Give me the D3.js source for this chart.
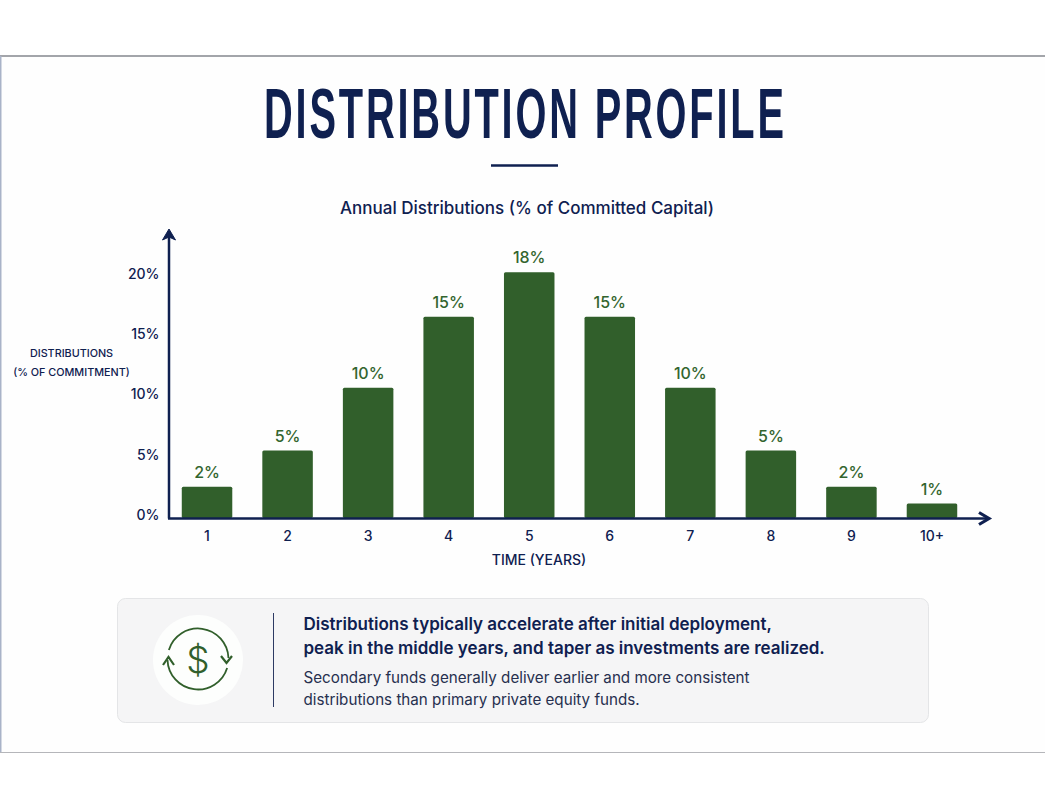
<!DOCTYPE html>
<html>
<head>
<meta charset="utf-8">
<script src="https://cdn.jsdelivr.net/npm/d3@7"></script>
<style>
  html, body { margin: 0; padding: 0; background: #fff; }
  svg { display: block; }
  text { font-family: Inter, "Noto Sans", sans-serif; }
</style>
</head>
<body>
<svg id="chart" width="1045" height="808"></svg>
<script>
const years = ["1", "2", "3", "4", "5", "6", "7", "8", "9", "10+"];
// bar heights as read against the axis (they run a bit above their printed labels)
const barValues = [2.6, 5.6, 10.8, 16.7, 20.4, 16.7, 10.8, 5.6, 2.6, 1.2];
const barLabels = ["2%", "5%", "10%", "15%", "18%", "15%", "10%", "5%", "2%", "1%"];
const yTicks = [0, 5, 10, 15, 20];
const noteBold = ["Distributions typically accelerate after initial deployment,",
                  "peak in the middle years, and taper as investments are realized."];
const noteText = ["Secondary funds generally deliver earlier and more consistent",
                  "distributions than primary private equity funds."];

const navy = "#0f2050", green = "#315f2b", labelGreen = "#33652e";

let svg = d3.select("#chart");

// page frame
svg.append("rect").attr("x", 0).attr("y", 56).attr("width", 1045).attr("height", 696).attr("fill", "#fefefe");
svg.append("line").attr("x1", 0).attr("x2", 1045).attr("y1", 56).attr("y2", 56).attr("stroke", "#a3a5aa").attr("stroke-width", 2);
svg.append("line").attr("x1", 0.5).attr("x2", 0.5).attr("y1", 56).attr("y2", 752).attr("stroke", "#a9b3c8").attr("stroke-width", 2);
svg.append("line").attr("x1", 0).attr("x2", 1045).attr("y1", 752.5).attr("y2", 752.5).attr("stroke", "#b5b6ba").attr("stroke-width", 1);

// title, squeezed by hand since no condensed face is installed
let titleScale = 0.56;
svg.append("text")
    .attr("transform", `translate(264,138) scale(${titleScale},1)`)
    .attr("textLength", 520 / titleScale).attr("lengthAdjust", "spacing")
    .style("font-family", "'Liberation Sans', sans-serif")
    .style("font-weight", 700).style("font-size", "71px")
    .attr("fill", navy)
    .text("DISTRIBUTION PROFILE");
svg.append("line").attr("x1", 491).attr("x2", 558).attr("y1", 165.5).attr("y2", 165.5).attr("stroke", navy).attr("stroke-width", 2.5);

svg.append("text")
    .attr("x", 527).attr("y", 214).attr("text-anchor", "middle")
    .style("font-size", "17px").style("font-weight", 500)
    .attr("fill", navy)
    .text("Annual Distributions (% of Committed Capital)");

// scales
let x = d3.scaleBand().domain(years).range([166.75, 972.25]).paddingInner(0.373).paddingOuter(0.1865);
let y = d3.scaleLinear().domain([0, 20]).range([518, 277]);

// bars
svg.selectAll("rect.bar")
    .data(barValues)
    .enter()
    .append("rect")
    .attr("class", "bar")
    .attr("x", (d, i) => x(years[i]))
    .attr("y", d => y(d))
    .attr("width", x.bandwidth())
    .attr("height", d => y(0) - y(d))
    .attr("rx", 1.5)
    .attr("fill", green);

svg.selectAll("text.value")
    .data(barLabels)
    .enter()
    .append("text")
    .attr("class", "value")
    .attr("x", (d, i) => x(years[i]) + x.bandwidth() / 2)
    .attr("y", (d, i) => y(barValues[i]) - 9)
    .attr("text-anchor", "middle")
    .style("font-size", "16px").style("font-weight", 500)
    .attr("fill", labelGreen)
    .text(d => d);

// axes
let yAxis = svg.append("g")
    .attr("transform", "translate(169,0)")
    .call(d3.axisLeft(y).tickValues(yTicks).tickSize(0).tickPadding(9.5).tickFormat(d => d + "%"));
yAxis.select(".domain").remove();
yAxis.selectAll("text")
    .attr("dy", "0.1em")
    .style("font-family", "Inter, sans-serif").style("font-size", "14px").style("font-weight", 500)
    .attr("fill", navy);

let xAxis = svg.append("g")
    .attr("transform", "translate(0,518)")
    .call(d3.axisBottom(x).tickSize(0).tickPadding(13));
xAxis.select(".domain").remove();
xAxis.selectAll("text")
    .style("font-family", "Inter, sans-serif").style("font-size", "14px").style("font-weight", 500)
    .attr("fill", navy);

// axis lines with arrows
svg.append("line").attr("x1", 169).attr("x2", 169).attr("y1", 518.5).attr("y2", 232).attr("stroke", navy).attr("stroke-width", 2.5);
svg.append("line").attr("x1", 168).attr("x2", 988).attr("y1", 518.5).attr("y2", 518.5).attr("stroke", navy).attr("stroke-width", 2.5);
svg.append("path").attr("d", "M169 229 L175.5 240 L169 237 L162.5 240 Z").attr("fill", navy).attr("stroke", navy).attr("stroke-linejoin", "round");
svg.append("path").attr("d", "M979 512.5 L989 518.5 L979 524.5").attr("fill", "none").attr("stroke", navy).attr("stroke-width", 3.2);

// axis titles
svg.append("text").attr("x", 71.5).attr("y", 357).attr("text-anchor", "middle")
    .style("font-size", "10.8px").style("font-weight", 500).attr("fill", navy).text("DISTRIBUTIONS");
svg.append("text").attr("x", 71.5).attr("y", 376).attr("text-anchor", "middle")
    .style("font-size", "10.8px").style("font-weight", 500).attr("fill", navy).text("(% OF COMMITMENT)");
svg.append("text").attr("x", 539).attr("y", 565).attr("text-anchor", "middle")
    .style("font-size", "14px").style("font-weight", 500).attr("fill", navy).text("TIME (YEARS)");

// note card
svg.append("rect").attr("x", 117.5).attr("y", 598.5).attr("width", 811).attr("height", 124).attr("rx", 8)
    .attr("fill", "#f5f5f6").attr("stroke", "#e4e5e7");
svg.append("circle").attr("cx", 198).attr("cy", 660).attr("r", 45).attr("fill", "#fdfefd");

// icon
let iconArc = d3.arc().innerRadius(30.5).outerRadius(30.5);
let icon = svg.append("g").attr("transform", "translate(198,659)");
icon.append("path").attr("d", iconArc({startAngle: -1.27, endAngle: 1.54}))
    .attr("fill", "none").attr("stroke", green).attr("stroke-width", 1.8);
icon.append("path").attr("d", iconArc({startAngle: 1.87, endAngle: 4.68}))
    .attr("fill", "none").attr("stroke", green).attr("stroke-width", 1.8);
icon.append("path").attr("d", "M23 -3 L28.5 4 L34 -3").attr("fill", "none").attr("stroke", green).attr("stroke-width", 2.2);
icon.append("path").attr("d", "M-35 6 L-29.5 -2 L-24 6").attr("fill", "none").attr("stroke", green).attr("stroke-width", 2.2);
svg.append("text").attr("x", 198).attr("y", 673).attr("text-anchor", "middle")
    .style("font-size", "37px").style("font-weight", 300).attr("fill", green).text("$");

svg.append("line").attr("x1", 273.5).attr("x2", 273.5).attr("y1", 613).attr("y2", 707).attr("stroke", "#2d3a63").attr("stroke-width", 1);

svg.selectAll("text.bold")
    .data(noteBold)
    .enter()
    .append("text")
    .attr("class", "bold")
    .attr("x", 303.5)
    .attr("y", (d, i) => 630 + i * 24)
    .style("font-size", "17px").style("font-weight", 600)
    .attr("fill", navy)
    .text(d => d);

svg.selectAll("text.plain")
    .data(noteText)
    .enter()
    .append("text")
    .attr("class", "plain")
    .attr("x", 303.5)
    .attr("y", (d, i) => 683 + i * 21.5)
    .style("font-size", "15.2px").style("font-weight", 400)
    .attr("fill", "#27304f")
    .text(d => d);
</script>
</body>
</html>
